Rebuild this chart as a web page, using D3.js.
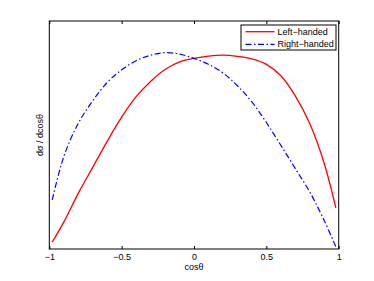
<!DOCTYPE html>
<html><head><meta charset="utf-8">
<script src="https://cdn.jsdelivr.net/npm/d3@7"></script>
<style>body{margin:0;background:#fff}svg{display:block}text{font-family:"Liberation Sans",Arial,sans-serif;}</style>
</head><body>
<script>
const cosTheta = [-0.98,-0.9,-0.8,-0.7,-0.6,-0.5,-0.4,-0.3,-0.2,-0.1,0,0.1,0.2,0.3,0.4,0.5,0.6,0.7,0.8,0.9,0.98];
const leftHanded = [0.03,0.118,0.244,0.358,0.472,0.578,0.668,0.735,0.787,0.821,0.836,0.846,0.850,0.845,0.834,0.810,0.760,0.672,0.55,0.375,0.18];
const rightHanded = [0.215,0.405,0.551,0.650,0.730,0.786,0.826,0.850,0.861,0.855,0.836,0.810,0.772,0.716,0.645,0.555,0.455,0.353,0.250,0.125,0.01];
const xTicks = [-1,-0.5,0,0.5,1];
const xTickLabels = ["\u22121","\u22120.5","0","0.5","1"];
const seriesNames = ["Left\u2212handed","Right\u2212handed"];
const xLabel = "cos\u03b8";
const yLabel = "d\u03c3 / dcos\u03b8";

const W=374,H=281;
const L=49.3,R=338.7,T=21,B=249;
const FS=9;
const svg=d3.select("body").append("svg").attr("width",W).attr("height",H);
const x=d3.scaleLinear().domain([-1,1]).range([L,R]);
const y=d3.scaleLinear().domain([0,1]).range([B,T]);

const line=d3.line().x((d,i)=>x(cosTheta[i])).y(d=>y(d)).curve(d3.curveCatmullRom.alpha(0.5));
svg.append("path").datum(leftHanded).attr("d",line).attr("fill","none").attr("stroke","#ff0000").attr("stroke-width",1.3);
svg.append("path").datum(rightHanded).attr("d",line).attr("fill","none").attr("stroke","#0000ff").attr("stroke-width",1.2).attr("stroke-dasharray","6,2.5,1.5,2.5");

// frame
svg.append("rect").attr("x",L).attr("y",T).attr("width",R-L).attr("height",B-T).attr("fill","none").attr("stroke","#000").attr("stroke-width",1);

// ticks bottom and top
const xAxisB=d3.axisBottom(x).tickValues(xTicks).tickFormat((d,i)=>xTickLabels[i]).tickSizeInner(-3).tickSizeOuter(0).tickPadding(5);
const gB=svg.append("g").attr("transform",`translate(0,${B})`).call(xAxisB);
gB.select(".domain").remove();
gB.selectAll("text").attr("font-size",FS).attr("font-family","Liberation Sans, Arial, sans-serif").attr("fill","#000");
gB.selectAll("line").attr("stroke","#000");
const xAxisT=d3.axisTop(x).tickValues(xTicks).tickFormat("").tickSizeInner(-3).tickSizeOuter(0);
const gT=svg.append("g").attr("transform",`translate(0,${T})`).call(xAxisT);
gT.select(".domain").remove();
gT.selectAll("line").attr("stroke","#000");

svg.append("text").attr("x",x(0)).attr("y",267).attr("dy","0.35em").attr("text-anchor","middle").attr("font-size",FS).text(xLabel);
svg.append("text").attr("transform",`translate(39.5,${135}) rotate(-90)`).attr("dy","0.35em").attr("text-anchor","middle").attr("font-size",FS).text(yLabel);

// legend
const lg=svg.append("g");
lg.append("rect").attr("x",241).attr("y",25).attr("width",95).attr("height",25).attr("fill","#fff").attr("stroke","#000").attr("stroke-width",1);
const styles=[{c:"#ff0000",d:null,w:1.3},{c:"#0000ff",d:"6,2.5,1.5,2.5",w:1.2}];
seriesNames.forEach((n,i)=>{
  const yy=31.7+i*12.6;
  const l=lg.append("line").attr("x1",245.5).attr("x2",274.5).attr("y1",yy).attr("y2",yy).attr("stroke",styles[i].c).attr("stroke-width",styles[i].w);
  if(styles[i].d) l.attr("stroke-dasharray",styles[i].d);
  lg.append("text").attr("x",277.5).attr("y",yy).attr("dy","0.35em").attr("font-size",FS).text(n);
});
</script>
</body></html>
